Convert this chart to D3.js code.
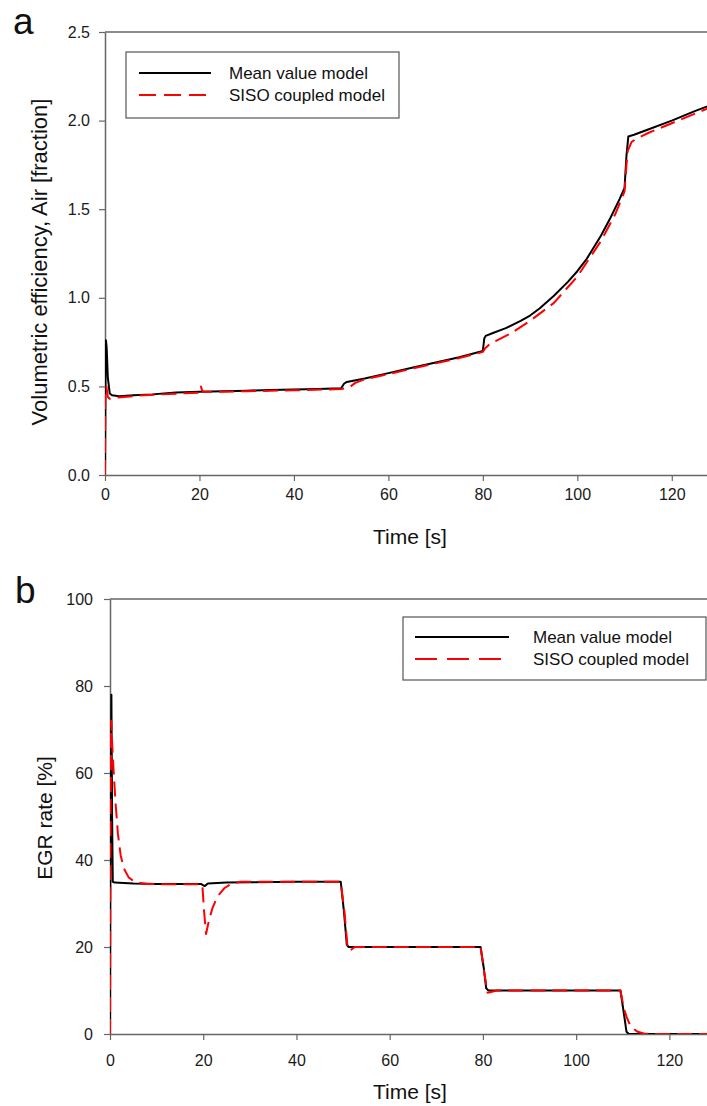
<!DOCTYPE html>
<html>
<head>
<meta charset="utf-8">
<script src="https://cdn.jsdelivr.net/npm/d3@7"></script>
<style>
  html, body { margin: 0; padding: 0; background: #fff; }
  svg { display: block; font-family: "Liberation Sans", Arial, sans-serif; }
</style>
</head>
<body>
<svg id="chart" width="707" height="1106"></svg>
<script>
// ---------------- Data ----------------
// Panel a: Volumetric efficiency, Air [fraction]
const aMeanT = [0, 0.1, 0.2, 0.35, 0.6, 1.0, 1.5, 3, 6, 10, 15, 20, 25, 30, 35, 40, 45, 50, 50.6, 51.2, 55, 60, 65, 70, 75, 80, 80.3, 80.6, 82, 85, 88, 90, 92, 95, 98, 100, 102, 105, 107, 109, 110, 110.4, 110.8, 112, 115, 120, 125, 130];
const aMeanV = [0, 0.5, 0.76, 0.72, 0.55, 0.46, 0.45, 0.445, 0.45, 0.455, 0.465, 0.47, 0.473, 0.476, 0.48, 0.482, 0.485, 0.49, 0.515, 0.525, 0.545, 0.575, 0.605, 0.635, 0.665, 0.70, 0.77, 0.785, 0.80, 0.83, 0.87, 0.90, 0.94, 1.01, 1.09, 1.15, 1.22, 1.35, 1.45, 1.56, 1.62, 1.80, 1.91, 1.92, 1.95, 2.00, 2.055, 2.105];
const aSisoT = [0, 0.05, 0.3, 0.6, 1.0, 2, 4, 8, 12, 16, 20, 20.3, 20.6, 21, 25, 30, 40, 50, 51, 52, 53, 55, 60, 65, 70, 75, 80, 80.5, 81.5, 83, 86, 90, 95, 100, 105, 108, 110, 110.4, 110.7, 111.5, 112.7, 115, 120, 125, 130];
const aSisoV = [0, 0.45, 0.5, 0.44, 0.43, 0.435, 0.44, 0.45, 0.455, 0.46, 0.465, 0.5, 0.475, 0.47, 0.47, 0.473, 0.478, 0.485, 0.49, 0.50, 0.52, 0.54, 0.57, 0.60, 0.63, 0.66, 0.695, 0.715, 0.74, 0.76, 0.80, 0.87, 0.97, 1.12, 1.32, 1.47, 1.60, 1.75, 1.83, 1.88, 1.90, 1.93, 1.985, 2.04, 2.095];
const aYTicks = [0.0, 0.5, 1.0, 1.5, 2.0, 2.5];

// Panel b: EGR rate [%]
const bMeanT = [0, 0.05, 0.3, 0.45, 0.6, 1, 5, 10, 15, 19.5, 20.3, 21, 25, 30, 40, 49.5, 50.2, 50.8, 51.2, 60, 70, 79.5, 80.2, 80.7, 81.2, 90, 100, 109.5, 110.2, 110.8, 111.3, 120, 130];
const bMeanV = [0, 30, 78, 50, 35, 34.8, 34.6, 34.5, 34.5, 34.5, 34.0, 34.6, 34.8, 34.9, 35, 35, 28, 20.5, 20, 20, 20, 20, 15, 10.5, 10, 10, 10, 10, 5, 0.5, 0, 0, 0];
const bSisoT = [0, 0.05, 0.25, 0.5, 0.8, 1.2, 1.7, 2.3, 3, 4, 5, 6, 8, 12, 16, 19.8, 20.2, 20.6, 21.2, 22, 23, 24.5, 26, 28, 35, 49.5, 50.3, 51, 51.5, 52.5, 60, 70, 79.5, 80.3, 81, 81.5, 83, 90, 100, 109.5, 110.2, 110.8, 111.5, 112.3, 113.2, 114.5, 116, 120, 130];
const bSisoV = [0, 35, 72, 66, 60, 53, 46, 41, 38, 36, 35.2, 34.8, 34.5, 34.4, 34.4, 34.4, 28, 23, 26, 29, 31.5, 33.5, 34.5, 35, 35, 35, 28, 19.5, 19.2, 20, 20, 20, 20, 14, 9.5, 9.6, 10, 10, 10, 10, 6, 4, 2.2, 1.2, 0.5, 0.1, 0, 0, 0];
const bYTicks = [0, 20, 40, 60, 80, 100];

const xTicks = [0, 20, 40, 60, 80, 100, 120];
const seriesNames = ["Mean value model", "SISO coupled model"];

// ---------------- Drawing ----------------
const svg = d3.select("#chart");
const AXIS = "#666";

function zip(t, v) { return t.map((d, i) => ({ t: d, v: v[i] })); }

function panel(cfg) {
  const x = d3.scaleLinear().domain([0, 130]).range([cfg.left, cfg.right]);
  const y = d3.scaleLinear().domain(cfg.yDomain).range([cfg.bottom, cfg.top]);
  const g = svg.append("g");

  const clipId = "clip-" + cfg.id;
  svg.append("clipPath").attr("id", clipId)
    .append("rect").attr("x", cfg.left).attr("y", cfg.top - 2)
    .attr("width", cfg.right - cfg.left).attr("height", cfg.bottom - cfg.top + 2);

  // frame top line
  g.append("line").attr("x1", cfg.left).attr("x2", cfg.right)
    .attr("y1", cfg.top).attr("y2", cfg.top)
    .attr("stroke", AXIS).attr("stroke-width", 1.5);

  // axes
  const yAxis = d3.axisLeft(y).tickValues(cfg.yTicks).tickFormat(cfg.yFmt)
    .tickSize(6).tickSizeOuter(0).tickPadding(cfg.yPad);
  const gy = g.append("g").attr("transform", `translate(${cfg.left},0)`).call(yAxis);
  const xAxis = d3.axisBottom(x).tickValues(xTicks).tickFormat(d3.format("d"))
    .tickSize(6).tickSizeOuter(0).tickPadding(cfg.xPad);
  const gx = g.append("g").attr("transform", `translate(0,${cfg.bottom})`).call(xAxis);
  [gx, gy].forEach(a => {
    a.select(".domain").attr("stroke", AXIS).attr("stroke-width", 1.5);
    a.selectAll(".tick line").attr("stroke", AXIS).attr("stroke-width", 1.2);
    a.selectAll(".tick text").attr("fill", "#1a1a1a")
      .style("font-family", '"Liberation Sans", Arial, sans-serif');
  });
  gy.selectAll(".tick text").style("font-size", cfg.yFont + "px");
  gx.selectAll(".tick text").style("font-size", cfg.xFont + "px");

  // lines
  const line = d3.line().x(d => x(d.t)).y(d => y(d.v));
  const lg = g.append("g").attr("clip-path", `url(#${clipId})`);
  lg.append("path").datum(zip(cfg.meanT, cfg.meanV)).attr("d", line)
    .attr("fill", "none").attr("stroke", "#000").attr("stroke-width", 2)
    .attr("stroke-linejoin", "round");
  lg.append("path").datum(zip(cfg.sisoT, cfg.sisoV)).attr("d", line)
    .attr("fill", "none").attr("stroke", "#ff0000").attr("stroke-width", 2)
    .attr("stroke-dasharray", "15,7").attr("stroke-linejoin", "round");

  // axis titles
  g.append("text").attr("x", cfg.xTitleX).attr("y", cfg.xTitleY)
    .attr("text-anchor", "middle").attr("font-size", cfg.titleFont).attr("fill", "#111")
    .text("Time [s]");
  g.append("text").attr("transform", `translate(${cfg.yTitleX},${cfg.yTitleY}) rotate(-90)`)
    .attr("text-anchor", "middle").attr("font-size", cfg.yTitleFont).attr("fill", "#111")
    .text(cfg.yTitle);

  // panel letter
  g.append("text").attr("x", cfg.letterX).attr("y", cfg.letterY)
    .attr("font-size", 37).attr("fill", "#111")
    .text(cfg.letter);

  // legend
  const L = cfg.legend;
  const lgd = g.append("g");
  lgd.append("rect").attr("x", L.x).attr("y", L.y).attr("width", L.w).attr("height", L.h)
    .attr("fill", "#fff").attr("stroke", "#555").attr("stroke-width", 1.2);
  seriesNames.forEach((name, i) => {
    const yy = L.y + L.row0 + i * L.rowGap;
    lgd.append("line").attr("x1", L.x + L.lx0).attr("x2", L.x + L.lx1)
      .attr("y1", yy).attr("y2", yy)
      .attr("stroke", i === 0 ? "#000" : "#ff0000").attr("stroke-width", 2)
      .attr("stroke-dasharray", i === 0 ? null : L.dash);
    lgd.append("text").attr("x", L.x + L.tx).attr("y", yy).attr("dy", "0.35em")
      .attr("font-size", L.font).attr("fill", "#111").text(name);
  });
}

panel({
  id: "a", letter: "a", letterX: 13, letterY: 34,
  left: 105, right: 719, top: 32, bottom: 475,
  yDomain: [0, 2.5], yTicks: aYTicks, yFmt: d3.format(".1f"),
  yPad: 9, xPad: 8, yFont: 16, xFont: 16, titleFont: 21, yTitleFont: 22,
  meanT: aMeanT, meanV: aMeanV, sisoT: aSisoT, sisoV: aSisoV,
  xTitleX: 410, xTitleY: 544, yTitleX: 47, yTitleY: 262,
  yTitle: "Volumetric efficiency, Air [fraction]",
  legend: { x: 126, y: 52, w: 273, h: 66, row0: 21, rowGap: 22, lx0: 13, lx1: 85, tx: 103, font: 17, dash: "17,8" }
});

panel({
  id: "b", letter: "b", letterX: 15, letterY: 603,
  left: 110, right: 716, top: 599, bottom: 1034,
  yDomain: [0, 100], yTicks: bYTicks, yFmt: d3.format("d"),
  yPad: 11, xPad: 15, yFont: 16, xFont: 16, titleFont: 21, yTitleFont: 21,
  meanT: bMeanT, meanV: bMeanV, sisoT: bSisoT, sisoV: bSisoV,
  xTitleX: 410, xTitleY: 1099, yTitleX: 52, yTitleY: 818,
  yTitle: "EGR rate [%]",
  legend: { x: 403, y: 617, w: 303, h: 63, row0: 20, rowGap: 22, lx0: 12, lx1: 106, tx: 130, font: 17, dash: "22,10" }
});
</script>
</body>
</html>
